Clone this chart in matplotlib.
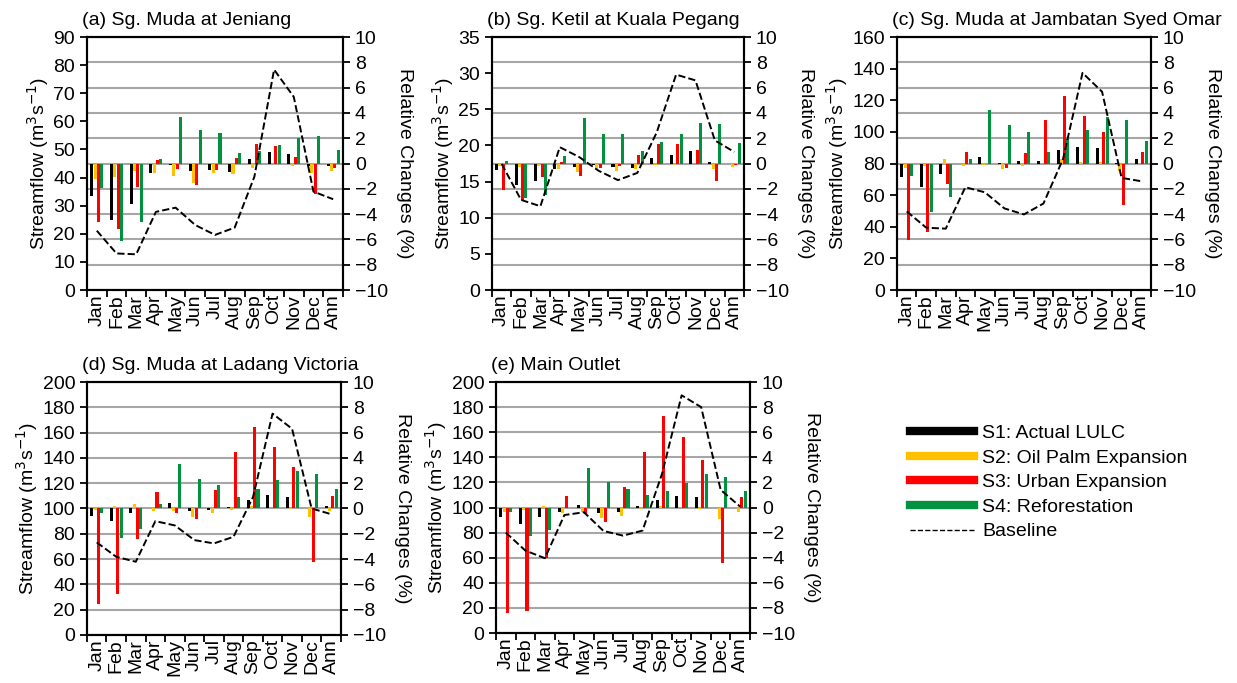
import numpy as np
import matplotlib
matplotlib.use("Agg")
import matplotlib.pyplot as plt
from matplotlib.lines import Line2D

plt.rcParams['font.family'] = ['Liberation Sans', 'DejaVu Sans']

months = ["Jan", "Feb", "Mar", "Apr", "May", "Jun", "Jul", "Aug", "Sep", "Oct", "Nov", "Dec", "Ann"]
scenarios = ["S1: Actual LULC", "S2: Oil Palm Expansion", "S3: Urban Expansion", "S4: Reforestation"]
colors = ["#000000", "#FFC000", "#FF0000", "#00923F"]

titles = ["(a) Sg. Muda at Jeniang", "(b) Sg. Ketil at Kuala Pegang",
          "(c) Sg. Muda at Jambatan Syed Omar", "(d) Sg. Muda at Ladang Victoria",
          "(e) Main Outlet"]

# ===== (a) Jeniang =====
a_s1 = [-2.58, -4.47, -3.24, -0.76, -0.08, -0.63, -0.55, -0.66, 0.37, 0.92, 0.76, -0.2, -0.21]
a_s2 = [-1.26, -1.08, -0.6, -0.74, -1.0, -1.53, -0.74, -0.82, -0.37, -0.05, -0.21, -0.74, -0.6]
a_s3 = [-4.63, -5.21, -1.84, 0.26, -0.47, -1.68, -0.53, 0.45, 1.55, 1.37, 0.5, -2.4, -0.34]
a_s4 = [-1.92, -6.13, -4.6, 0.32, 3.68, 2.68, 2.42, 0.84, 0.97, 1.47, 2.03, 2.16, 1.1]
a_base = [21.1, 13.0, 12.7, 27.8, 29.3, 23.1, 19.6, 22.2, 40.3, 78.4, 68.7, 35.0, 32.3]

# ===== (b) Kuala Pegang =====
b_s1 = [-0.55, -1.69, -1.35, -0.42, -0.24, -0.1, -0.29, -0.32, 0.4, 0.69, 0.95, 0.13, 0.0]
b_s2 = [-0.2, -0.29, -0.2, -0.45, -0.69, -0.5, -0.6, -0.47, -0.1, -0.08, -0.03, -0.42, -0.29]
b_s3 = [-2.08, -2.88, -1.08, 0.08, -1.0, -0.34, -0.2, 0.71, 1.53, 1.56, 1.03, -1.35, -0.08]
b_s4 = [0.16, -2.72, -2.45, 0.58, 3.61, 2.35, 2.3, 1.0, 1.69, 2.3, 3.19, 3.14, 1.61]
b_base = [17.45, 12.47, 11.59, 19.76, 18.4, 16.5, 15.2, 16.2, 21.8, 29.8, 29.0, 20.7, 19.1]

# ===== (c) Jambatan Syed Omar =====
c_s1 = [-1.07, -1.86, -0.81, 0.0, 0.52, 0.05, 0.18, 0.16, 1.05, 1.31, 1.23, 0.05, 0.39]
c_s2 = [-0.39, -0.21, 0.37, -0.21, -0.08, -0.42, -0.21, -0.05, 0.37, 0.13, 0.13, -0.6, -0.05]
c_s3 = [-6.03, -5.45, -1.6, 0.94, -0.05, -0.34, 0.86, 3.46, 5.35, 3.77, 2.46, -3.3, 0.89]
c_s4 = [-1.0, -3.8, -2.62, 0.39, 4.25, 3.01, 2.46, 0.94, 1.97, 2.62, 3.64, 3.41, 1.81]
c_base = [49.7, 39.4, 38.8, 65.0, 61.8, 51.6, 47.8, 54.7, 82.8, 137.3, 125.4, 70.9, 68.8]

# ===== (d) Ladang Victoria =====
d_s1 = [-0.58, -1.0, -0.34, 0.0, 0.42, -0.21, -0.08, 0.13, 0.66, 1.03, 0.92, 0.0, 0.21]
d_s2 = [-0.13, 0.21, 0.39, -0.18, -0.18, -0.66, -0.39, -0.13, 0.21, 0.0, -0.05, -0.71, -0.18]
d_s3 = [-7.55, -6.76, -2.45, 1.29, -0.39, -0.84, 1.47, 4.47, 6.45, 4.87, 3.26, -4.21, 0.95]
d_s4 = [-0.32, -2.32, -1.6, 0.39, 3.55, 2.34, 1.82, 0.92, 1.58, 2.26, 2.97, 2.74, 1.58]
d_base = [73.2, 61.8, 57.9, 90.0, 86.6, 75.0, 72.4, 77.6, 109.0, 175.0, 163.0, 100.0, 95.5]

# ===== (e) Main Outlet =====
e_s1 = [-0.72, -1.3, -0.72, -0.32, 0.21, -0.4, -0.32, 0.08, 0.61, 0.93, 0.82, 0.0, 0.0]
e_s2 = [-0.37, -0.19, 0.08, -0.45, -0.37, -0.87, -0.66, -0.13, 0.13, 0.0, -0.11, -0.9, -0.32]
e_s3 = [-8.4, -8.26, -4.03, 0.93, -0.5, -1.19, 1.64, 4.4, 7.28, 5.64, 3.79, -4.42, 0.87]
e_s4 = [-0.32, -2.3, -1.77, 0.0, 3.13, 2.04, 1.51, 0.98, 1.35, 1.99, 2.68, 2.46, 1.35]
e_base = [80.0, 65.7, 59.6, 94.0, 96.2, 81.3, 77.6, 81.6, 127.0, 189.4, 180.0, 114.0, 100.7]

panels = [
    ([a_s1, a_s2, a_s3, a_s4], a_base, 90, 10),
    ([b_s1, b_s2, b_s3, b_s4], b_base, 35, 5),
    ([c_s1, c_s2, c_s3, c_s4], c_base, 160, 20),
    ([d_s1, d_s2, d_s3, d_s4], d_base, 200, 20),
    ([e_s1, e_s2, e_s3, e_s4], e_base, 200, 20),
]

# axes boxes in figure fractions [left, bottom, width, height]
boxes = [
    [0.0703, 0.5754, 0.2070, 0.3704],
    [0.3977, 0.5754, 0.2037, 0.3704],
    [0.7251, 0.5754, 0.2053, 0.3704],
    [0.0703, 0.0703, 0.2053, 0.3704],
    [0.4010, 0.0732, 0.2053, 0.3675],
]

fs = 14
fig = plt.figure(figsize=(12.37, 6.83), dpi=100)
x = np.arange(len(months))
w = 0.155

for k, (series, base, ymax, ystep) in enumerate(panels):
    ax = fig.add_axes(boxes[k])
    ax2 = ax.twinx()

    # bars on the relative change axis (right side)
    for i, vals in enumerate(series):
        ax.bar(x + (i - 1.5) * 0.17, vals, width=w, color=colors[i], zorder=2)
    ax.set_ylim(-10, 10)
    ax.set_yticks(np.arange(-10, 11, 2))
    ax.yaxis.tick_right()
    ax.yaxis.set_label_position("right")
    ax.set_ylabel("Relative Changes (%)", fontsize=fs, rotation=270, labelpad=18)
    ax.grid(axis="y", color="#A6A6A6", lw=1.5, zorder=0)
    ax.set_axisbelow(True)

    ax.set_xlim(-0.5, len(months) - 0.5)
    ax.set_xticks(np.arange(-0.5, len(months), 1.0))
    ax.set_xticklabels([])
    ax.set_xticks(x, minor=True)
    ax.set_xticklabels(months, minor=True, rotation=90, fontsize=fs)
    ax.tick_params(axis="x", which="major", direction="out", length=5, width=1.3)
    ax.tick_params(axis="x", which="minor", length=0, pad=3)
    ax.tick_params(axis="y", direction="out", length=5, width=1.3, labelsize=fs)
    for sp in ax.spines.values():
        sp.set_linewidth(1.5)

    # baseline streamflow on left axis
    ax2.plot(x, base, ls="--", color="black", lw=1.4, zorder=5)
    ax2.set_ylim(0, ymax)
    ax2.set_yticks(np.arange(0, ymax + 1, ystep))
    ax2.yaxis.tick_left()
    ax2.yaxis.set_label_position("left")
    ax2.set_ylabel("Streamflow (m$^3$s$^{-1}$)", fontsize=fs, labelpad=2)
    ax2.tick_params(axis="y", direction="out", length=5, width=1.3, labelsize=fs)
    for sp in ax2.spines.values():
        sp.set_linewidth(1.5)

    ax.text(-0.02, 1.03, titles[k], transform=ax.transAxes, fontsize=fs,
            ha="left", va="bottom")

handles = [Line2D([0], [0], color=c, lw=6) for c in colors]
handles.append(Line2D([0], [0], color="black", ls="--", lw=1.0))
fig.legend(handles, scenarios + ["Baseline"], loc="upper left",
           bbox_to_anchor=(0.728, 0.393), frameon=False, fontsize=fs,
           handlelength=3.3, handletextpad=0.4, labelspacing=0.36,
           borderpad=0.0)

plt.savefig("out.png", dpi=100)
